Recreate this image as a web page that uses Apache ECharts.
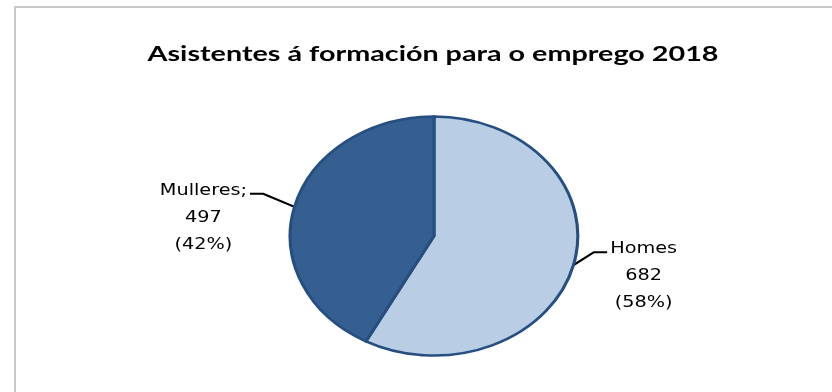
<!DOCTYPE html>
<html>
<head>
<meta charset="utf-8">
<script src="https://cdn.jsdelivr.net/npm/echarts@6/dist/echarts.min.js"></script>
<style>
  html, body { margin: 0; padding: 0; background: #fff; }
  #wrap { position: relative; width: 832px; height: 392px; overflow: hidden; }
  #frame, #pie { position: absolute; left: 0; top: 0; width: 832px; height: 392px; }
  /* the source pie is an ellipse: draw a round pie and stretch it sideways */
  #pie { transform: scaleX(1.2033); transform-origin: 434px 236px; }
</style>
</head>
<body>
<div id="wrap">
  <div id="frame"></div>
  <div id="pie"></div>
</div>
<script>
var title = 'Asistentes á formación para o emprego 2018';
var categories = ['Homes', 'Mulleres'];
var values = [682, 497];
var nameMarks = ['', ';'];

var palette = ['#B9CDE5', '#365F91'];
// leader line: sideways run of the first segment, per slice
var leaderRun = [17, 26];

// stretch the title to the width it has in the source
var titleFont = 'bold 20px Lato';
var ctx = document.createElement('canvas').getContext('2d');
ctx.font = titleFont;
var titleScale = 571 / ctx.measureText(title).width;

var frame = echarts.init(document.getElementById('frame'));
frame.setOption({
  animation: false,
  graphic: [
    {
      type: 'rect',
      shape: { x: 15, y: 7, width: 900, height: 500 },
      style: { fill: 'none', stroke: '#c8c8c8', lineWidth: 2 }
    },
    {
      type: 'text',
      x: 433,
      y: 55,
      scaleX: titleScale,
      style: {
        text: title,
        font: titleFont,
        fill: '#000',
        align: 'center',
        verticalAlign: 'middle'
      }
    }
  ]
});

var pie = echarts.init(document.getElementById('pie'), null, { renderer: 'svg' });
pie.setOption({
  animation: false,
  series: [{
    type: 'pie',
    center: [434, 236],
    radius: 119.5,
    startAngle: 90,
    clockwise: true,
    avoidLabelOverlap: false,
    silent: true,
    percentPrecision: 0,
    itemStyle: { borderColor: '#264F80', borderWidth: 2.6 },
    label: {
      show: true,
      position: 'outside',
      color: '#000',
      fontFamily: 'DejaVu Sans',
      fontSize: 16,
      lineHeight: 27,
      formatter: function (p) {
        var i = p.dataIndex;
        return [
          '{t|' + p.name + nameMarks[i] + '}',
          '{t|' + p.value + '}',
          '{t|(' + p.percent + '%)}'
        ].join('\n');
      },
      rich: {
        t: { align: 'center', color: '#000', fontFamily: 'DejaVu Sans', fontSize: 16, lineHeight: 27 }
      }
    },
    labelLine: {
      show: true,
      length: 15,
      length2: 10,
      lineStyle: { color: '#000', width: 2 }
    },
    // Excel-like leader: short rise towards the label, then a flat stub
    labelLayout: function (p) {
      var pts = p.labelLinePoints;
      if (!pts) return {};
      var s = pts[0];
      var dir = pts[2][0] < s[0] ? -1 : 1;
      var elbow = [s[0] + dir * leaderRun[p.dataIndex], s[1] - 13];
      var end = [elbow[0] + dir * 11, elbow[1]];
      return {
        x: end[0] + dir * 2.5,
        y: end[1] - 18,
        align: dir > 0 ? 'left' : 'right',
        verticalAlign: 'top',
        labelLinePoints: [s, elbow, end]
      };
    },
    data: categories.map(function (c, i) {
      return { name: c, value: values[i], itemStyle: { color: palette[i] } };
    })
  }]
});
</script>
</body>
</html>
